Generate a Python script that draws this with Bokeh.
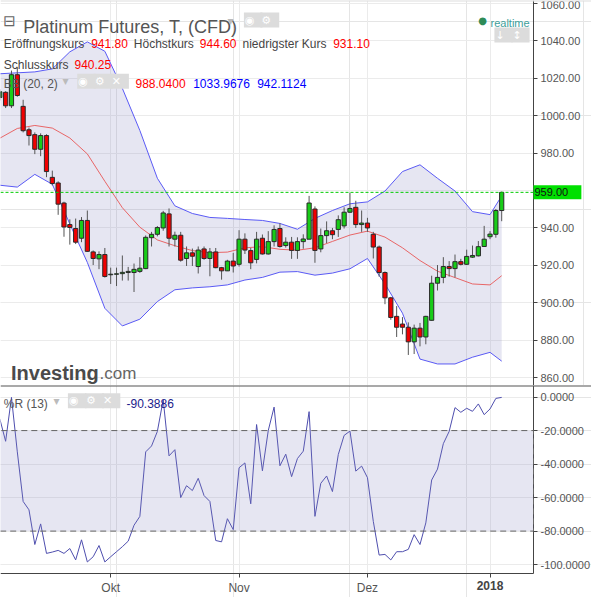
import pandas as pd
from bokeh.plotting import figure
from bokeh.models import (ColumnDataSource, Range1d, FixedTicker, SingleIntervalTicker,
                          NumeralTickFormatter, Span, BoxAnnotation, Label, Grid, LinearAxis)
from bokeh.layouts import column
from bokeh.embed import file_html
from bokeh.resources import INLINE

# ---------------- data ----------------
dates = pd.bdate_range("2017-09-05", "2018-01-03")  # 87 trading days

opens = [1009.6, 1012.4, 1005.2, 1021.8, 1004.9, 992.4, 989.8, 982.0, 989.3, 967.0,
         964.0, 953.3, 941.8, 939.7, 934.5, 944.0, 927.2, 923.5, 925.8,
         915.0, 915.3, 915.6, 916.2, 916.2, 916.8, 918.3, 934.8, 936.6, 940.0,
         947.5, 934.0, 936.1, 923.7, 926.7, 919.4, 928.8, 923.7, 927.2, 918.8,
         917.1, 922.3, 920.6, 934.0, 927.9, 923.2, 934.5, 926.1, 932.7, 939.7,
         930.6, 932.4, 928.0, 932.7, 934.0, 950.1, 928.8, 935.9, 938.5, 939.2,
         941.1, 948.4, 951.0, 941.8, 942.6, 936.6, 929.8, 916.2, 902.7, 892.8,
         888.7, 887.0, 879.2, 886.5, 881.8, 890.7, 910.5, 913.6, 919.4, 918.3,
         922.0, 920.6, 924.4, 925.1, 930.1, 935.3, 936.6, 949.3]
highs = [1014.0, 1013.0, 1024.0, 1025.8, 1008.4, 993.6, 991.0, 990.5, 990.0, 970.6,
         964.9, 954.0, 944.6, 945.0, 945.8, 949.3, 928.0, 927.5, 929.3,
         918.8, 918.8, 925.3, 919.2, 921.0, 924.4, 936.0, 937.9, 941.0, 949.1,
         950.4, 938.0, 937.9, 930.1, 929.0, 930.1, 930.1, 929.3, 929.3, 919.2,
         923.0, 926.7, 938.8, 937.1, 929.3, 937.9, 936.5, 938.3, 941.4, 942.5,
         935.0, 935.2, 935.0, 936.6, 957.1, 951.5, 939.7, 943.5, 940.0, 946.7,
         951.0, 958.8, 954.5, 949.3, 945.4, 937.9, 930.6, 916.8, 903.2, 898.3,
         892.4, 889.6, 888.4, 889.3, 893.1, 914.5, 920.2, 924.4, 922.3, 925.8,
         923.5, 928.4, 930.6, 933.0, 941.1, 938.3, 950.1, 959.4]
lows = [1008.0, 1004.0, 1004.0, 1010.0, 991.0, 984.0, 979.4, 978.3, 967.1, 962.7,
        947.0, 935.3, 931.1, 931.4, 932.4, 927.2, 920.2, 918.0, 913.5,
        910.1, 909.0, 911.9, 911.9, 905.8, 916.0, 918.0, 930.1, 935.5, 938.5,
        930.1, 930.1, 922.0, 919.7, 919.7, 915.7, 923.0, 914.2, 918.5, 912.4,
        917.0, 916.2, 919.4, 926.1, 918.0, 921.1, 925.8, 925.8, 930.1, 929.5,
        929.5, 923.5, 923.5, 928.9, 934.0, 921.4, 927.0, 931.9, 934.0, 935.2,
        939.7, 948.0, 940.0, 937.9, 937.9, 923.7, 914.0, 899.3, 891.0, 881.8,
        883.2, 872.2, 872.7, 876.8, 877.9, 890.5, 906.6, 910.5, 914.0, 913.6,
        920.0, 920.2, 924.0, 924.8, 930.0, 934.0, 934.8, 943.6]
closes = [1012.7, 1005.2, 1021.8, 1010.7, 991.9, 989.3, 982.0, 989.3, 970.1, 963.7,
          952.7, 940.5, 940.25, 932.4, 944.0, 927.5, 923.7, 925.8, 914.1,
          915.3, 915.5, 916.3, 916.8, 917.9, 918.5, 935.0, 936.6, 940.2, 948.0,
          934.5, 936.1, 922.8, 926.7, 924.9, 928.2, 923.7, 927.2, 918.8, 917.1,
          922.3, 919.7, 934.0, 928.2, 921.4, 934.0, 926.1, 932.7, 939.2, 930.1,
          932.4, 928.0, 932.7, 934.1, 953.3, 928.0, 935.9, 938.5, 936.4, 944.4,
          948.4, 950.4, 941.8, 942.6, 940.0, 929.8, 916.2, 902.7, 892.2, 887.0,
          887.0, 879.2, 886.5, 881.8, 892.8, 910.5, 913.6, 919.4, 918.3, 922.0,
          920.6, 924.8, 925.3, 930.0, 934.0, 936.7, 949.3, 959.0]

# Bollinger band (20, 2) read at every third session
band_days = [0, 3, 6, 9, 12, 15, 18, 21, 24, 27, 30, 33, 36, 39, 42, 45, 48, 51,
             54, 57, 60, 63, 66, 69, 72, 75, 78, 81, 84, 86]
bb_upper = [1022.3, 1022.8, 1023.3, 1024.9, 1034.0, 1039.3, 1034.3, 1014.5, 992.0,
            966.5, 951.8, 947.7, 945.6, 945.1, 944.5, 944.0, 942.4, 939.3, 945.1,
            949.3, 952.9, 953.9, 959.7, 970.1, 973.7, 966.5, 959.7, 948.7, 947.1, 957.1]
bb_middle = [987.9, 993.1, 994.7, 993.3, 988.0, 979.5, 964.9, 950.8, 940.4, 933.6,
             930.5, 927.9, 926.8, 927.1, 929.4, 930.0, 928.6, 928.1, 929.4, 932.8,
             936.2, 938.3, 935.1, 929.4, 922.6, 916.9, 913.5, 910.1, 909.6, 914.5]
bb_lower = [962.8, 961.8, 968.6, 963.3, 942.1, 921.6, 897.1, 887.7, 891.3, 900.7,
            907.0, 908.0, 908.6, 909.6, 912.2, 913.6, 916.4, 916.7, 914.8, 915.9,
            918.2, 923.7, 910.1, 894.5, 870.0, 867.4, 867.4, 871.0, 873.6, 868.9]

# Williams %R (13)
williams_r = [-13.0, -26.4, -0.2, -32.7, -62.3, -67.3, -88.0, -75.7, -93.3, -92.5,
              -91.5, -93.3, -90.39, -97.2, -85.2, -98.4, -95.3, -88.6, -98.4,
              -95.3, -92.3, -89.3, -86.0, -76.5, -71.2, -32.7, -29.2, -20.5, -1.6,
              -35.1, -31.4, -60.0, -52.9, -55.8, -48.5, -58.8, -62.3, -85.6, -86.4,
              -72.6, -79.1, -42.2, -39.3, -63.7, -16.4, -44.0, -20.0, -6.0, -41.0,
              -34.1, -47.5, -36.7, -32.3, -8.7, -71.2, -51.5, -47.1, -56.4, -34.3,
              -22.9, -20.3, -44.2, -41.2, -48.1, -74.2, -94.3, -93.9, -97.2, -92.3,
              -92.3, -90.9, -82.1, -88.0, -75.1, -49.5, -43.0, -27.8, -20.5, -6.3,
              -9.1, -6.7, -8.5, -4.1, -10.5, -7.1, -0.8, -0.2]

month_names = {10: "Okt", 11: "Nov", 12: "Dez", 1: "2018"}
header_title = "Platinum Futures, T, (CFD)"
header_ohlc = [("Eröffnungskurs", "941.80"), ("Höchstkurs", "944.60"),
               ("niedrigster Kurs", "931.10"), ("Schlusskurs", "940.25")]
header_bb = ["988.0400", "1033.9676", "942.1124"]
header_wr = "-90.3886"

# ---------------- layout constants ----------------
FONT = "Liberation Sans"
W = 591
AXPX = 533            # pixel position of the price axis inside the frame
X0, AX = 0.12, 91.45  # data x at frame left edge and at the price axis
XEND = X0 + (AX - X0) * W / AXPX
H1 = 385
H2 = 212
BOT2 = 24             # pixels under the %R data area for the date labels
WR_TOP, WR_BOT = 6.9, -105.3
WR_START = WR_BOT - (WR_TOP - WR_BOT) * BOT2 / (H2 - BOT2)

UP = "#18cc18"
DOWN = "#f00000"
GRID = "#ebebeb"

x = list(range(len(dates)))
month_pos = [i for i in range(1, len(dates)) if dates[i].month != dates[i - 1].month]

src = ColumnDataSource(dict(
    x=x, high=highs, low=lows,
    top=[max(o, c) for o, c in zip(opens, closes)],
    bottom=[min(o, c) for o, c in zip(opens, closes)],
    color=[UP if c >= o else DOWN for o, c in zip(opens, closes)],
))

xr = Range1d(X0, XEND)


def lab(p, x, y, text, size="12px", color="#444", font=FONT, style="normal",
        bg=None, align="left", baseline="alphabetic", xu="screen", yu="screen", pad=None):
    l = Label(x=x, y=y, x_units=xu, y_units=yu, text=text, text_font=font,
              text_font_size=size, text_color=color, text_font_style=style,
              text_align=align, text_baseline=baseline, background_fill_color=bg)
    if pad is not None:
        try:
            l.padding = pad
        except Exception:
            pass
    p.add_layout(l)
    return l


def icon(p, cx, cy, glyph):
    lab(p, cx, cy, " " + glyph + " ", size="11px", color="white", font="DejaVu Sans",
        bg="#dcdcdc", align="center", baseline="middle", pad=1)


def price_axis(fmt, bounds=None):
    ax = LinearAxis(fixed_location=AX, ticker=SingleIntervalTicker(interval=20),
                    formatter=NumeralTickFormatter(format=fmt))
    if bounds is not None:
        ax.bounds = bounds
    ax.axis_line_color = "#444444"
    ax.major_tick_line_color = "#444444"
    ax.major_tick_out = 4
    ax.major_tick_in = 0
    ax.minor_tick_line_color = None
    ax.major_label_text_font = FONT
    ax.major_label_text_font_size = "11px"
    ax.major_label_text_color = "#555555"
    ax.major_label_standoff = 3
    return ax


def bounded_grid(p, dim, ticker, cross):
    g = Grid(dimension=dim, ticker=ticker, grid_line_color=GRID)
    ok = True
    try:
        g.cross_bounds = cross
    except Exception:
        ok = False
    p.add_layout(g)
    return ok


# ---------------- main price panel ----------------
p1 = figure(width=W, height=H1, x_range=xr, y_range=Range1d(855.9, 1061.4),
            output_backend="svg", toolbar_location=None, x_axis_location=None,
            y_axis_location=None, min_border_left=0, min_border_top=0,
            min_border_bottom=0, min_border_right=0)
p1.outline_line_color = None
p1.background_fill_color = "white"
ax1 = price_axis("0.00")
p1.add_layout(ax1, "right")
if not bounded_grid(p1, 1, ax1.ticker, (X0, AX)):
    p1.add_layout(BoxAnnotation(left=AX, fill_color="white", fill_alpha=1,
                                line_color=None, level="underlay"))
p1.add_layout(Grid(dimension=0, ticker=FixedTicker(ticks=month_pos), grid_line_color=GRID))
p1.add_layout(Span(location=1061.4, dimension="width", line_color="#dddddd", line_width=2))

p1.varea(x=band_days, y1=bb_lower, y2=bb_upper, fill_color="#8080c0", fill_alpha=0.2)
p1.line(band_days, bb_upper, line_color="#5a5af5", line_width=1)
p1.line(band_days, bb_lower, line_color="#5a5af5", line_width=1)
p1.line(band_days, bb_middle, line_color="#e85858", line_width=1, line_alpha=0.9)

p1.segment(x0="x", y0="high", x1="x", y1="low", line_color="#555555", line_width=1, source=src)
p1.vbar(x="x", width=0.72, top="top", bottom="bottom", fill_color="color",
        line_color="#2a2a2a", line_width=1, source=src)

# current price line and its tag on the axis
p1.segment(x0=[X0], x1=[AX], y0=[closes[-1]], y1=[closes[-1]], line_color="#00cc00",
           line_dash="3 2", line_width=1)
lab(p1, AX, closes[-1], "  %.2f  " % closes[-1], size="11px", color="#111111",
    bg="#00e000", baseline="middle", xu="data", yu="data", pad=1)

# header texts
lab(p1, 9, H1 - 20, "⊟", size="15px", color="#666666", font="DejaVu Sans",
    align="center", baseline="middle")
lab(p1, 22.7, H1 - 26.7, header_title, size="18px", color="#555555")
lab(p1, 230, H1 - 20, "▾", size="12px", color="#bbbbbb", font="DejaVu Sans",
    align="center", baseline="middle")
icon(p1, 252.7, H1 - 19.5, "◉")
icon(p1, 269.3, H1 - 19.5, "⚙")

lab(p1, 3.3, H1 - 43.3, header_ohlc[0][0])
lab(p1, 90.7, H1 - 43.3, header_ohlc[0][1], color="#ff0000")
lab(p1, 133.3, H1 - 43.3, header_ohlc[1][0])
lab(p1, 199.3, H1 - 43.3, header_ohlc[1][1], color="#ff0000")
lab(p1, 242.0, H1 - 43.3, header_ohlc[2][0])
lab(p1, 332.7, H1 - 43.3, header_ohlc[2][1], color="#ff0000")
lab(p1, 3.3, H1 - 64, header_ohlc[3][0])
lab(p1, 74.0, H1 - 64, header_ohlc[3][1], color="#ff0000")

lab(p1, 3.3, H1 - 83.3, "BB (20, 2)", color="#555555")
lab(p1, 65, H1 - 80.5, "▾", size="12px", color="#bbbbbb", font="DejaVu Sans",
    align="center", baseline="middle")
icon(p1, 86.0, H1 - 80.7, "◉")
icon(p1, 102.7, H1 - 80.7, "⚙")
icon(p1, 119.3, H1 - 80.7, "✕")
lab(p1, 135.0, H1 - 83.3, header_bb[0], color="#ff0000")
lab(p1, 192.7, H1 - 83.3, header_bb[1], color="#0000ff")
lab(p1, 256.7, H1 - 83.3, header_bb[2], color="#0000ff")

lab(p1, AXPX - 51, H1 - 19.7, "●", size="10px", color="#2e8b57", font="DejaVu Sans",
    align="center", baseline="middle")
lab(p1, AXPX - 43, H1 - 22.7, "realtime", size="11px", color="#3d9e9a")
icon(p1, AXPX - 30, H1 - 34.5, "↓")
icon(p1, AXPX - 13, H1 - 34.5, "↕")

lab(p1, 10.5, 12.3, "Investing", size="20px", color="#4a4a4a", style="bold")
lab(p1, 99, 12.3, ".com", size="17px", color="#666666")

# ---------------- Williams %R panel ----------------
p2 = figure(width=W, height=H2, x_range=xr, y_range=Range1d(WR_START, WR_TOP),
            output_backend="svg", toolbar_location=None, x_axis_location=None,
            y_axis_location=None, min_border_left=0, min_border_top=0,
            min_border_bottom=0, min_border_right=0)
p2.outline_line_color = None
p2.background_fill_color = "white"
ax2 = price_axis("0.0000", bounds=(WR_BOT, WR_TOP))
p2.add_layout(ax2, "right")

mt = FixedTicker(ticks=month_pos)
xax = LinearAxis(fixed_location=WR_BOT, ticker=mt, bounds=(X0, AX))
xax.major_label_overrides = {i: ("" if dates[i].month == 1 else month_names[dates[i].month])
                             for i in month_pos}
xax.axis_line_color = "#444444"
xax.major_tick_line_color = "#444444"
xax.major_tick_out = 4
xax.major_tick_in = 0
xax.minor_tick_line_color = None
xax.major_label_text_font = FONT
xax.major_label_text_font_size = "12px"
xax.major_label_text_color = "#555555"
xax.major_label_standoff = 3
p2.add_layout(xax, "below")

ok_y = bounded_grid(p2, 1, ax2.ticker, (X0, AX))
ok_x = bounded_grid(p2, 0, mt, (WR_BOT, WR_TOP))
if not ok_y:
    p2.add_layout(BoxAnnotation(left=AX, fill_color="white", fill_alpha=1,
                                line_color=None, level="underlay"))
if not ok_x:
    p2.add_layout(BoxAnnotation(top=WR_BOT, fill_color="white", fill_alpha=1,
                                line_color=None, level="underlay"))

for i in month_pos:
    if dates[i].month == 1:
        lab(p2, i, H2 - (H2 - BOT2) - 7, month_names[1], size="12px", color="#444444",
            style="bold", align="center", baseline="top", xu="data")

p2.add_layout(BoxAnnotation(left=X0 - 5, right=AX, bottom=-80, top=-20,
                            fill_color="#8080c0", fill_alpha=0.2, line_color="#666666",
                            line_alpha=1.0, line_dash="6 4", line_width=1))
p2.add_layout(Span(location=WR_TOP, dimension="width", line_color="#555555", line_width=2))
p2.line(x, williams_r, line_color="#4e4eae", line_width=1)

lab(p2, 3.3, H2 - 18.3, "%R (13)", color="#555555")
lab(p2, 56, H2 - 15.3, "▾", size="12px", color="#bbbbbb", font="DejaVu Sans",
    align="center", baseline="middle")
icon(p2, 76.7, H2 - 15.3, "◉")
icon(p2, 94.0, H2 - 15.3, "⚙")
icon(p2, 110.7, H2 - 15.3, "✕")
lab(p2, 126, H2 - 18.3, header_wr, color="#1c1c8c")

layout = column(p1, p2)
open("out.html", "w").write(file_html(layout, INLINE))
